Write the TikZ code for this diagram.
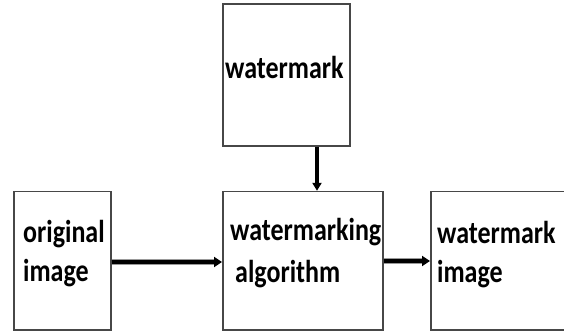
\documentclass[tikz,border=0pt]{standalone}
\usepackage{fontspec}
\usepackage{graphicx}
\setmainfont{Carlito}
\usetikzlibrary{arrows.meta}
\newcommand{\tallt}[1]{\scalebox{1}[1.22]{#1}}
\begin{document}
\begin{tikzpicture}[x=1pt,y=1pt,
  boxnode/.style={draw=black!72,line width=1.7pt,inner sep=0pt,anchor=south west},
  lbl/.style={anchor=base west,inner sep=0pt,font=\bfseries\fontsize{26}{40}\selectfont},
  flow/.style={line width=3.2pt,black,-{Triangle[length=8pt,width=10pt]}},
  halo/.style={line width=5.6pt,black!40}]
\useasboundingbox (0,0) rectangle (564,332);
\node[boxnode,minimum width=127pt,minimum height=142pt] (wm) at (222,185) {};
\node[boxnode,minimum width=97pt,minimum height=138pt] (orig) at (13,1.5) {};
\node[boxnode,minimum width=160pt,minimum height=138pt] (alg) at (222,1.5) {};
\node[boxnode,minimum width=150pt,minimum height=138pt] (out) at (430,1.5) {};
\node[lbl] (t1) at (225,253) {\tallt{watermark}};
\node[lbl] (t2) at (23,90) {\tallt{original}};
\node[lbl] (t3) at (23,51) {\tallt{image}};
\node[lbl] (t4) at (230,92) {\tallt{watermarking}};
\node[lbl] (t5) at (235,50) {\tallt{algorithm}};
\node[lbl] (t6) at (437,89) {\tallt{watermark}};
\node[lbl] (t7) at (437,50) {\tallt{image}};
\draw[halo] (orig.east |- 0,70) -- ([xshift=-7pt]alg.west |- 0,70);
\draw[flow] (orig.east |- 0,70) -- (alg.west |- 0,70);
\draw[halo] (alg.east |- 0,71) -- ([xshift=-7pt]out.west |- 0,71);
\draw[flow] (alg.east |- 0,71) -- (out.west |- 0,71);
\draw[flow,line width=3.2pt,-{Triangle[length=8pt,width=9pt]}] (wm.south -| 317,0) -- (alg.north -| 317,0);
\end{tikzpicture}
\end{document}
